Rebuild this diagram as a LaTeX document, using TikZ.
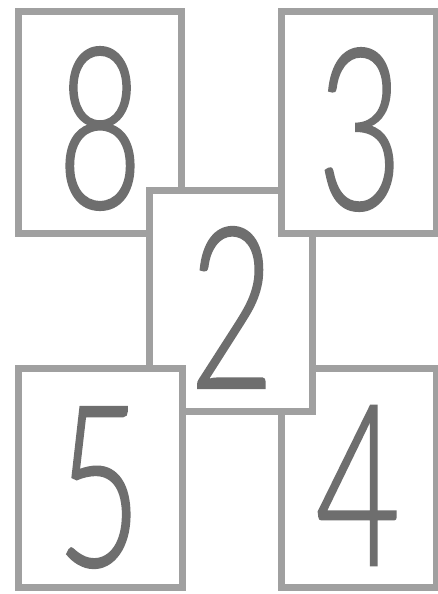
\documentclass[tikz,border=0pt]{standalone}
\usepackage{fontspec}
\newfontfamily\digitfont[FakeStretch=0.65,FakeBold=0.7]{Lato Light}
\definecolor{boxgray}{HTML}{A0A0A0}
\definecolor{digitgray}{HTML}{6E6E6E}
\begin{document}
\begin{tikzpicture}[x=1pt,y=-1pt,
  card/.style={draw=boxgray, line width=7pt, fill=white, rectangle, inner sep=0pt, outer sep=0pt},
  digit/.style={font=\digitfont\fontsize{226}{226}\selectfont, text=digitgray, inner sep=0pt}]
\useasboundingbox (0,0) rectangle (438,594);
\fill[white] (0,0) rectangle (438,594);
% top-left 8
\node[card, minimum width=163pt, minimum height=221pt] (b8) at (99.5,122.5) {};
\node[digit] (d8) at (100,128.5) {8};
% bottom-right 4
\node[card, minimum width=155pt, minimum height=219pt] (b4) at (358.5,477.5) {};
\node[digit] (d4) at (358,485.5) {4};
% center 2
\node[card, minimum width=163pt, minimum height=221pt] (b2) at (230.5,300.5) {};
\node[digit] (d2) at (232,307.5) {2};
% top-right 3
\node[card, minimum width=155pt, minimum height=221pt] (b3) at (358.5,122.5) {};
\node[digit] (d3) at (360,129.5) {3};
% bottom-left 5
\node[card, minimum width=164pt, minimum height=219pt] (b5) at (100,477.5) {};
\node[digit] (d5) at (99,487.5) {5};
\end{tikzpicture}
\end{document}
